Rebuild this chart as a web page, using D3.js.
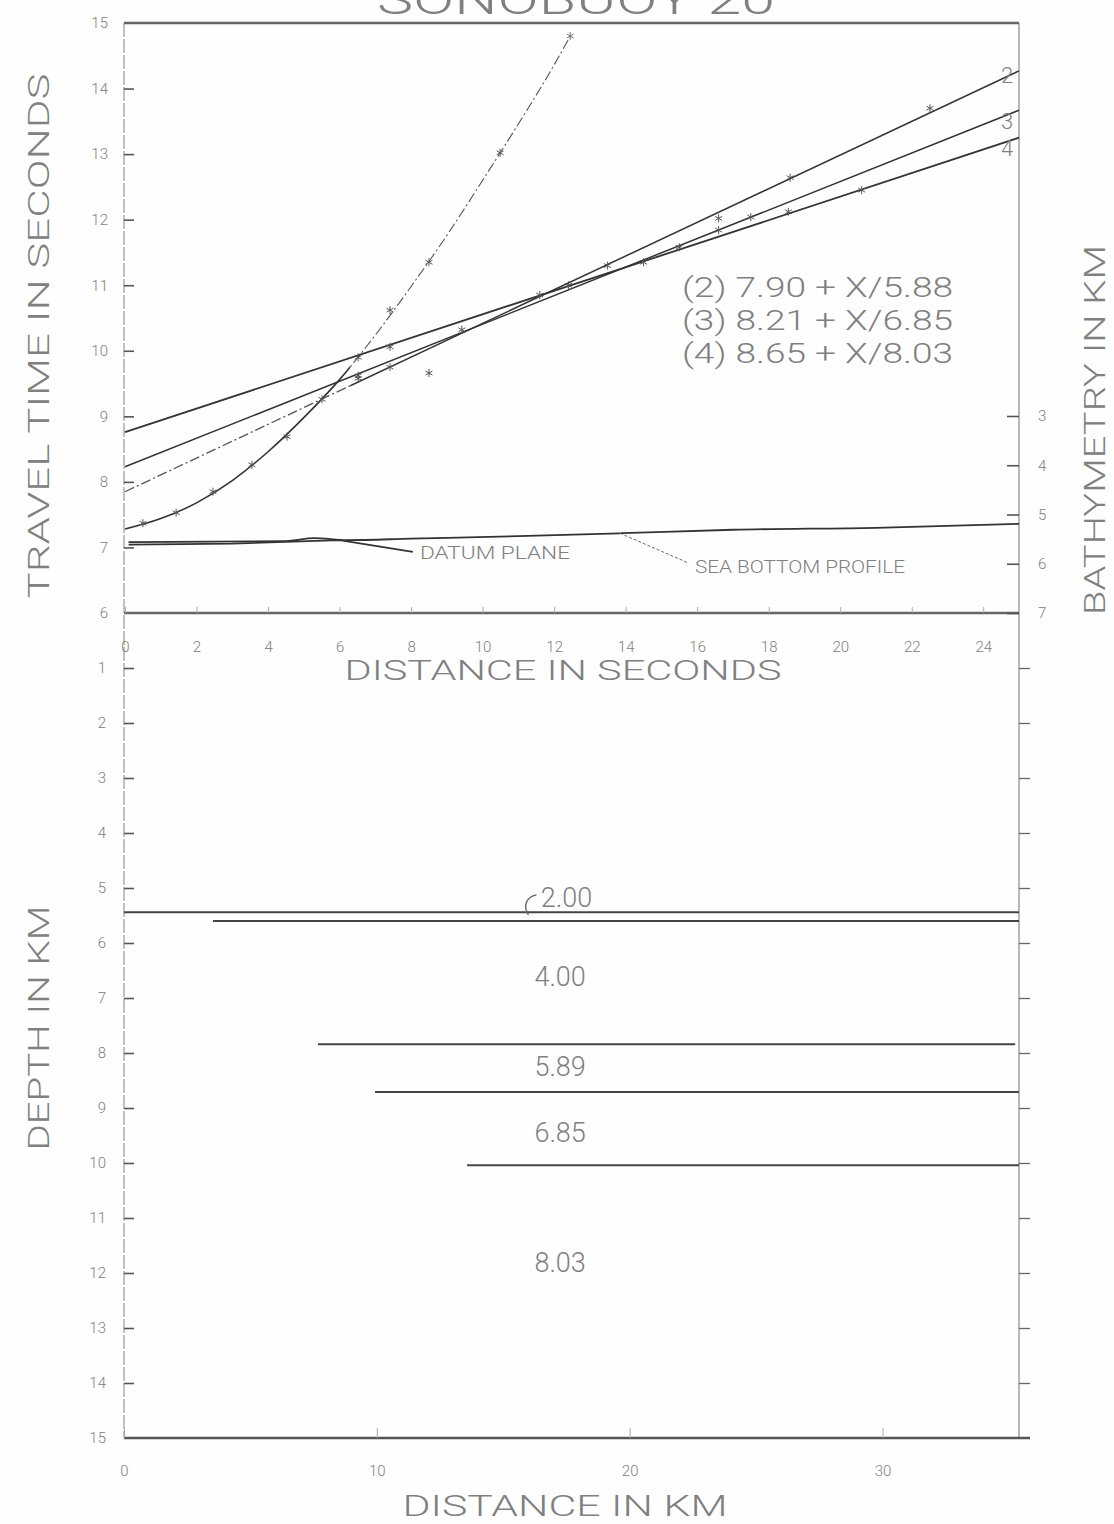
<!DOCTYPE html>
<html>
<head>
<meta charset="utf-8">
<script src="https://cdn.jsdelivr.net/npm/d3@7"></script>
<style>
body{margin:0;background:#fff;}
text{font-family:Roboto,"DejaVu Sans",sans-serif;font-weight:300;fill:#808080;}
</style>
</head>
<body>
<div id="chart"></div>
<script>
// ---- data ----
var timeTicks=[6,7,8,9,10,11,12,13,14,15];
var bathyTicks=[3,4,5,6,7];
var secTicks=[0,2,4,6,8,10,12,14,16,18,20,22,24];
var depthTicks=[1,2,3,4,5,6,7,8,9,10,11,12,13,14,15];
var kmTicks=[0,10,20,30];

// direct (water) wave, x in seconds of distance, t in seconds
var directCurve=[[0,7.28],[1,7.44],[2,7.68],[3,8.02],[4,8.46],[5,8.98],[6,9.56],[7,10.24],[8,10.98],[9,11.76],[10,12.6],[11,13.46],[12,14.36],[12.45,14.8]];
var directPicks=[[0.5,7.37],[1.43,7.53],[2.46,7.85],[3.55,8.26],[4.53,8.69],[5.51,9.26],[6.52,9.9],[7.41,10.62],[8.5,11.35],[10.49,13.02]];

// refraction branches (2),(3),(4): travel time at x=0 and at x=25
var branchNames=["2","3","4"];
var branchStart=[7.85,8.23,8.76];
var branchEnd=[14.27,13.67,13.25];
var picks2=[[6.52,9.58],[7.41,9.75],[8.5,9.66],[13.49,11.3],[16.6,12.02],[18.6,12.64],[22.51,13.7]];
var picks3=[[6.52,9.62],[9.42,10.32],[15.5,11.58],[16.6,11.84],[17.5,12.04]];
var picks4=[[7.41,10.06],[11.6,10.85],[12.4,11.0],[14.5,11.35],[18.55,12.12],[20.6,12.45]];

// sea bottom (x in seconds, depth in km on bathymetry scale)
var seaBottom=[[0.1,5.56],[4.5,5.54],[5.3,5.48],[6.2,5.52],[8,5.49],[11,5.44],[13.9,5.38],[17,5.31],[21,5.27],[25,5.19]];
var datumPlane=[[0.1,5.61],[3,5.59],[6,5.52],[8.05,5.76]];
var seaLeader=[[13.84,5.38],[15.74,5.98]];

var legendLines=["(2) 7.90 + X/5.88","(3) 8.21 + X/6.85","(4) 8.65 + X/8.03"];

// layered model (depth in km, from km to km)
var interfaceDepth=[5.44,5.6,7.84,8.71,10.04];
var interfaceFrom=[0,3.52,7.67,9.93,13.57];
var interfaceTo=[35.4,35.4,35.25,35.4,35.4];
var velocities=["2.00","4.00","5.89","6.85","8.03"];
var velDepth=[5.18,6.62,8.25,9.46,11.82];

// ---- chart ----
var w=1114,h=1524;
var svg=d3.select("#chart").append("svg").attr("width",w).attr("height",h);
svg.append("rect").attr("width",w).attr("height",h).attr("fill","#fefefe");

var xS=d3.scaleLinear().domain([0,25]).range([125,1019]);
var yT=d3.scaleLinear().domain([6,15]).range([613,23]);
var yB=d3.scaleLinear().domain([3,7]).range([416,613]);
var xK=d3.scaleLinear().domain([0,35.4]).range([124,1019]);
var yD=d3.scaleLinear().domain([0,15]).range([613,1438]);

var defs=svg.append("defs");
defs.append("clipPath").attr("id","cl").append("rect")
    .attr("x",0).attr("y",0).attr("width",xS(6.3)).attr("height",700);
defs.append("clipPath").attr("id","cr").append("rect")
    .attr("x",xS(6.3)).attr("y",0).attr("width",1100).attr("height",700);

function styleAxis(g,fs){
  g.select(".domain").remove();
  g.selectAll(".tick line").attr("stroke","#555").attr("stroke-width",1.6);
  g.selectAll(".tick text").attr("font-size",fs).attr("fill","#929292")
    .attr("font-family","Roboto, sans-serif");
}

// frame lines
svg.append("line").attr("x1",124).attr("x2",124).attr("y1",23).attr("y2",1438)
  .attr("stroke","#999").attr("stroke-width",1.2).attr("stroke-dasharray","14,2");
svg.append("line").attr("x1",1019).attr("x2",1019).attr("y1",23).attr("y2",1438)
  .attr("stroke","#888").attr("stroke-width",1.2);
svg.append("line").attr("x1",124).attr("x2",1019).attr("y1",23).attr("y2",23)
  .attr("stroke","#666").attr("stroke-width",2.5);
svg.append("line").attr("x1",124).attr("x2",1019).attr("y1",613).attr("y2",613)
  .attr("stroke","#666").attr("stroke-width",2.5);
svg.append("line").attr("x1",124).attr("x2",1030).attr("y1",1438).attr("y2",1438)
  .attr("stroke","#555").attr("stroke-width",2.5);

// axes
var gL=svg.append("g").attr("transform","translate(124,0)")
  .call(d3.axisLeft(yT).tickValues(timeTicks).tickSize(-10).tickPadding(16));
styleAxis(gL,15);
gL.selectAll(".tick line").filter(function(d){return d===6||d===15;}).remove();

var gB=svg.append("g").attr("transform","translate(1019,0)")
  .call(d3.axisRight(yB).tickValues(bathyTicks).tickSize(-12).tickPadding(19).tickFormat(d3.format("d")));
styleAxis(gB,15);

var gX=svg.append("g").attr("transform","translate(0,613)")
  .call(d3.axisBottom(xS).tickValues(secTicks).tickSize(-6).tickPadding(28));
styleAxis(gX,15);
gX.selectAll(".tick line").attr("stroke","#aaa").attr("stroke-width",1);

var gD=svg.append("g").attr("transform","translate(124,0)")
  .call(d3.axisLeft(yD).tickValues(depthTicks).tickSize(-10).tickPadding(18));
styleAxis(gD,15);
gD.selectAll(".tick line").filter(function(d){return d===15;}).remove();

var gDR=svg.append("g").attr("transform","translate(1019,0)")
  .call(d3.axisRight(yD).tickValues(depthTicks.slice(0,14)).tickSize(11).tickFormat(""));
styleAxis(gDR,15);
gDR.selectAll(".tick line").attr("stroke-width",1.3).attr("stroke","#666");

var gK=svg.append("g").attr("transform","translate(0,1438)")
  .call(d3.axisBottom(xK).tickValues(kmTicks).tickSize(-10).tickPadding(27));
styleAxis(gK,15);
gK.selectAll(".tick line").attr("stroke","#aaa").attr("stroke-width",1);

// titles
function label(txt,x,y,fs,len,rot){
  var t=svg.append("text").text(txt)
    .attr("transform","translate("+x+","+y+")"+(rot?" rotate(-90)":""))
    .attr("text-anchor","middle").attr("dominant-baseline","central")
    .attr("font-size",fs).attr("fill","#8c8c8c");
  if(len) t.attr("textLength",len).attr("lengthAdjust","spacingAndGlyphs");
  return t;
}
svg.append("text").text("SONOBUOY 20").attr("x",377).attr("y",14)
  .attr("font-size",42).attr("fill","#8c8c8c")
  .attr("textLength",398).attr("lengthAdjust","spacingAndGlyphs");
label("TRAVEL TIME IN SECONDS",38,336,30,525,true);
label("BATHYMETRY IN KM",1094,430,30,370,true);
label("DEPTH IN KM",38,1028,30,245,true);
label("DISTANCE IN SECONDS",563,670,28,437,false);
label("DISTANCE IN KM",565,1505,30,325,false);

// upper plot curves
var line=d3.line().x(function(d){return xS(d[0]);}).y(function(d){return yT(d[1]);});
var bline=d3.line().x(function(d){return xS(d[0]);}).y(function(d){return yB(d[1]);});

svg.append("path").datum(directCurve).attr("d",line.curve(d3.curveMonotoneX))
  .attr("fill","none").attr("stroke","#333").attr("stroke-width",1.6).attr("clip-path","url(#cl)");
svg.append("path").datum(directCurve).attr("d",line.curve(d3.curveMonotoneX))
  .attr("fill","none").attr("stroke","#555").attr("stroke-width",1.1)
  .attr("stroke-dasharray","10,3,2,3").attr("clip-path","url(#cr)");
line.curve(d3.curveLinear);

branchNames.forEach(function(n,i){
  var seg=[[0,branchStart[i]],[25,branchEnd[i]]];
  if(n==="2"){
    svg.append("path").datum(seg).attr("d",line).attr("fill","none")
      .attr("stroke","#555").attr("stroke-width",1.3).attr("stroke-dasharray","10,3,2,3")
      .attr("clip-path","url(#cl)");
    svg.append("path").datum(seg).attr("d",line).attr("fill","none")
      .attr("stroke","#333").attr("stroke-width",1.5).attr("clip-path","url(#cr)");
  } else {
    svg.append("path").datum(seg).attr("d",line).attr("fill","none")
      .attr("stroke","#333").attr("stroke-width",n==="4"?1.8:1.5);
  }
  svg.append("text").text(n).attr("x",xS(24.5)).attr("y",yT(branchEnd[i]-0.03))
    .attr("dy",n==="2"?"0.45em":"0.75em").attr("font-size",22).attr("fill","#666");
});

// picks
var sym=d3.symbol().type(d3.symbolAsterisk).size(45);
[directPicks,picks2,picks3,picks4].forEach(function(p){
  svg.append("g").selectAll("path").data(p).enter().append("path")
    .attr("d",sym)
    .attr("transform",function(d){return "translate("+xS(d[0])+","+yT(d[1])+")";})
    .attr("fill","none").attr("stroke","#555").attr("stroke-width",1);
});
svg.append("path").datum([directCurve[directCurve.length-1]]).attr("d",sym)
  .attr("transform",function(d){return "translate("+xS(d[0][0])+","+yT(d[0][1])+")";})
  .attr("fill","none").attr("stroke","#777").attr("stroke-width",1);

// sea bottom and datum plane
svg.append("path").datum(seaBottom).attr("d",bline.curve(d3.curveMonotoneX))
  .attr("fill","none").attr("stroke","#333").attr("stroke-width",1.8);
svg.append("path").datum(datumPlane).attr("d",bline.curve(d3.curveLinear))
  .attr("fill","none").attr("stroke","#333").attr("stroke-width",1.8);
svg.append("path").datum(seaLeader).attr("d",bline)
  .attr("fill","none").attr("stroke","#666").attr("stroke-width",1).attr("stroke-dasharray","3,2");
svg.append("text").text("DATUM PLANE").attr("x",xS(8.25)).attr("y",yB(5.78))
  .attr("dominant-baseline","central").attr("font-size",19).attr("fill","#777")
  .attr("textLength",150).attr("lengthAdjust","spacingAndGlyphs");
svg.append("text").text("SEA BOTTOM PROFILE").attr("x",xS(15.94)).attr("y",yB(6.05))
  .attr("dominant-baseline","central").attr("font-size",19).attr("fill","#777")
  .attr("textLength",210).attr("lengthAdjust","spacingAndGlyphs");

// legend
legendLines.forEach(function(s,i){
  svg.append("text").text(s).attr("x",682).attr("y",287+i*33)
    .attr("dominant-baseline","central").attr("font-size",28).attr("fill","#7a7a7a")
    .attr("textLength",271).attr("lengthAdjust","spacingAndGlyphs");
});

// lower plot: layer interfaces and velocities
svg.append("g").selectAll("line").data(interfaceDepth).enter().append("line")
  .attr("x1",function(d,i){return xK(interfaceFrom[i]);})
  .attr("x2",function(d,i){return xK(interfaceTo[i]);})
  .attr("y1",function(d){return yD(d);}).attr("y2",function(d){return yD(d);})
  .attr("stroke","#444").attr("stroke-width",2);

svg.append("g").selectAll("text").data(velocities).enter().append("text")
  .text(function(d){return d;})
  .attr("x",function(d,i){return xK(i===0?17.5:17.25);})
  .attr("y",function(d,i){return yD(velDepth[i]);})
  .attr("text-anchor","middle").attr("dominant-baseline","central")
  .attr("font-size",27).attr("fill","#7a7a7a");

// little hook pointing the 2.00 label to the thin layer
var hx=xK(17.5)-42,hy=yD(velDepth[0]);
svg.append("path")
  .attr("d","M"+(hx+12)+","+(hy-3)+" C"+(hx+2)+","+(hy-1)+" "+(hx-2)+","+(hy+8)+" "+(hx+4)+","+(hy+17))
  .attr("fill","none").attr("stroke","#666").attr("stroke-width",1.4);
</script>
</body>
</html>
